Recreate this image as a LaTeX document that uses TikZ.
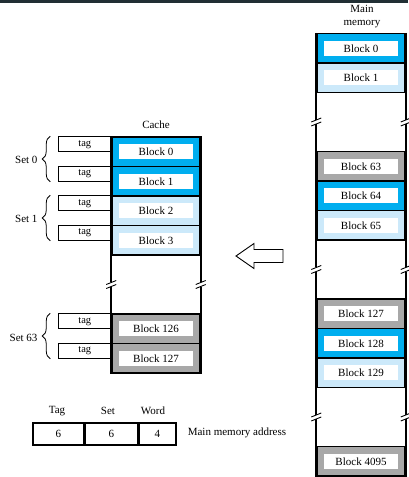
\documentclass[tikz,border=0pt]{standalone}
\usepackage{fontspec}
\setmainfont{Liberation Serif}
\usetikzlibrary{decorations.pathreplacing,calc}
\definecolor{cyb}{RGB}{0,174,239}
\definecolor{ltb}{RGB}{204,233,250}
\definecolor{grb}{RGB}{168,168,168}
\definecolor{band}{RGB}{33,47,52}
\begin{document}
\begin{tikzpicture}[x=1pt,y=-1pt,
  font=\fontsize{11}{13}\selectfont,
  blk/.style={draw, line width=1.5pt, minimum width=88pt, minimum height=29.5pt, inner sep=0pt},
  inblk/.style={fill=white, minimum width=74pt, minimum height=15pt, inner sep=0pt},
  side/.style={line width=2pt},
  tagbox/.style={draw, line width=1pt, minimum width=52pt, minimum height=15pt, inner sep=0pt, font=\fontsize{10.5}{12}\selectfont},
  fld/.style={draw, line width=1.5pt, minimum height=22pt, inner sep=0pt, anchor=north west},
  brc/.style={decorate, decoration={brace, amplitude=8pt}, line width=0.8pt},
  brkmark/.pic={\fill[white] (-3,-2.3) rectangle (3,2.3);
                \draw[line width=0.9pt] (-5,0) -- (5,-4);
                \draw[line width=0.9pt] (-5,4) -- (5,0);}
]
\useasboundingbox (0,0) rectangle (408,477);
\fill[band] (0,0) rectangle (408,2.5);

% ---------- main memory ----------
\node[align=center, inner sep=0pt] (mmlabel) at (362,16.5) {Main\\memory};
\foreach \s/\n/\c/\t in {0/m0/cyb/0, 1/m1/ltb/1, 4/m63/grb/63, 5/m64/cyb/64, 6/m65/ltb/65,
                         9/m127/grb/127, 10/m128/cyb/128, 11/m129/ltb/129, 14/m4095/grb/4095}{
  \node[blk, fill=\c] (\n) at (361, {33.5+(\s+0.5)*29.5}) {};
  \node[inblk] (\n t) at (\n.center) {Block \t};
}
\draw[side] (m0.north west) -- (m4095.south west);
\draw[side] (m0.north east) -- (m4095.south east);
\foreach \a/\b in {m1/m63, m65/m127, m129/m4095}{
  \pic at ($(\a.south west)!0.5!(\b.north west)$) {brkmark};
  \pic at ($(\a.south east)!0.5!(\b.north east)$) {brkmark};
}

% ---------- cache ----------
\node (cachelabel) at (156,125) {Cache};
\foreach \s/\n/\c/\t in {0/c0/cyb/0, 1/c1/cyb/1, 2/c2/ltb/2, 3/c3/ltb/3, 6/c126/grb/126, 7/c127/grb/127}{
  \node[blk, fill=\c] (\n) at (156, {137+(\s+0.5)*29.5}) {};
  \node[inblk] (\n t) at (\n.center) {Block \t};
  \node[tagbox, anchor=north east] (tg\n) at (\n.north west) {tag};
}
\draw[side] (c0.north west) -- (c127.south west);
\draw[side] (c0.north east) -- (c127.south east);
\pic at ($(c3.south west)!0.5!(c126.north west)$) {brkmark};
\pic at ($(c3.south east)!0.5!(c126.north east)$) {brkmark};

% braces and set labels
\draw[brc] ([xshift=-8pt]tgc1.south west) -- ([xshift=-8pt]tgc0.north west);
\draw[brc] ([xshift=-8pt]tgc3.south west) -- ([xshift=-8pt]tgc2.north west);
\draw[brc] ([xshift=-8pt]tgc127.south west) -- ([xshift=-8pt]tgc126.north west);
\node[anchor=east] (set0) at (41,160) {Set 0};
\node[anchor=east] (set1) at (41,219) {Set 1};
\node[anchor=east] (set63) at (41,338) {Set 63};

% ---------- arrow ----------
\draw[line width=0.9pt, fill=white] (236,256) -- (254,243.5) -- (254,249.5) -- (283,249.5)
  -- (283,262.5) -- (254,262.5) -- (254,268.5) -- cycle;

% ---------- address format ----------
\node[fld, minimum width=51pt] (ftag) at (32,422) {6};
\node[fld, minimum width=52pt] (fset) at (ftag.north east) {6};
\node[fld, minimum width=37pt] (fword) at (fset.north east) {4};
\node (ltag) at (57,411) {Tag};
\node (lset) at (108,411) {Set};
\node (lword) at (153,411) {Word};
\node (addr) at (237,433) {Main memory address};
\end{tikzpicture}
\end{document}
